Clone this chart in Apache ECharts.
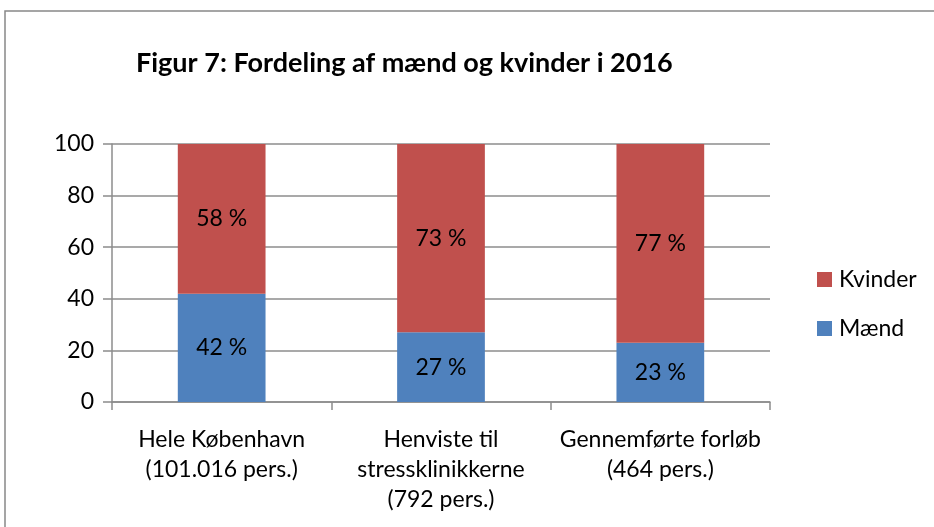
<!DOCTYPE html>
<html>
<head>
<meta charset="utf-8">
<script src="https://cdn.jsdelivr.net/npm/echarts@6/dist/echarts.min.js"></script>
<style>
  html, body { margin: 0; padding: 0; background: #fff; }
  #chart { width: 934px; height: 527px; }
</style>
</head>
<body>
<div id="chart"></div>
<script>
  // data
  const categories = [
    'Hele København\n(101.016 pers.)',
    'Henviste til\nstressklinikkerne\n(792 pers.)',
    'Gennemførte forløb\n(464 pers.)',
  ];
  const maendValues = [42, 27, 23];
  const kvinderValues = [58, 73, 77];
  const yTicks = { min: 0, max: 100, interval: 20 };

  const font = 'Lato, "Open Sans", sans-serif';
  const gray = '#8c8c8c';

  const chart = echarts.init(document.getElementById('chart'));

  const segLabel = {
    show: true,
    position: 'inside',
    formatter: (p) => p.value + ' %',
    color: '#000',
    fontSize: 23,
    fontFamily: font,
  };

  chart.setOption({
    animation: false,
    graphic: [
      {
        type: 'rect',
        shape: { x: 5, y: 11, width: 1000, height: 1000 },
        style: { fill: 'none', stroke: '#888', lineWidth: 1.5 },
        silent: true,
      },
    ],
    title: {
      text: 'Figur 7: Fordeling af mænd og kvinder i 2016',
      left: 131,
      top: 45,
      textStyle: {
        fontFamily: font,
        fontWeight: 'bold',
        fontSize: 27,
        color: '#000',
      },
    },
    legend: {
      orient: 'vertical',
      left: 812,
      top: 263,
      itemWidth: 15,
      itemHeight: 15,
      itemGap: 26,
      icon: 'rect',
      data: ['Kvinder', 'Mænd'],
      textStyle: { fontFamily: font, fontSize: 23, color: '#000', padding: [0, 0, 0, 2] },
    },
    grid: { left: 112, right: 164, top: 144, bottom: 125 },
    xAxis: {
      type: 'category',
      data: categories,
      axisLine: { lineStyle: { color: gray, width: 1.5 } },
      axisTick: { show: true, length: 8, lineStyle: { color: gray, width: 1.5 } },
      axisLabel: {
        color: '#000',
        fontFamily: font,
        fontSize: 23,
        lineHeight: 30,
        margin: 23,
        interval: 0,
      },
    },
    yAxis: {
      type: 'value',
      min: yTicks.min,
      max: yTicks.max,
      interval: yTicks.interval,
      axisLine: { show: true, lineStyle: { color: gray, width: 1.5 } },
      axisTick: { show: true, length: 9, lineStyle: { color: gray, width: 1.5 } },
      splitLine: { show: true, lineStyle: { color: gray, width: 1.5 } },
      axisLabel: { color: '#000', fontFamily: font, fontSize: 23, margin: 18 },
    },
    series: [
      {
        name: 'Mænd',
        type: 'bar',
        stack: 'total',
        barWidth: '40%',
        data: maendValues,
        itemStyle: { color: '#4F81BD' },
        label: segLabel,
      },
      {
        name: 'Kvinder',
        type: 'bar',
        stack: 'total',
        barWidth: '40%',
        data: kvinderValues,
        itemStyle: { color: '#C0504D' },
        label: segLabel,
      },
    ],
  });
</script>
</body>
</html>
